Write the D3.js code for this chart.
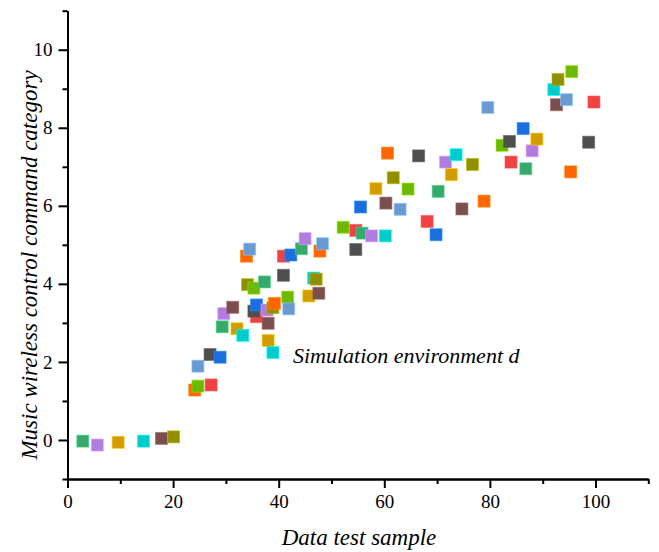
<!DOCTYPE html>
<html>
<head>
<meta charset="utf-8">
<script src="https://cdn.jsdelivr.net/npm/d3@7"></script>
<style>
  body { margin: 0; background: #fff; }
</style>
</head>
<body>
<div id="chart"></div>
<script>
// Sample index (x) and command category (y), in plotting order
const xs = [2.9, 5.65, 9.6, 14.4, 17.8, 20.1, 24.1, 24.7, 27.2, 24.7, 27.0, 28.9,
    29.3, 29.6, 32.1, 33.2, 31.3, 34.1, 33.9, 35.3, 35.8, 34.5, 35.3, 35.8,
    37.3, 37.8, 38.0, 38.9, 38.0, 38.9, 39.2, 41.7, 40.9, 41.9, 40.9, 42.3,
    44.3, 45.0, 45.7, 46.6, 47.6, 47.1, 47.8, 52.2, 54.6, 48.3, 54.6, 55.5,
    55.8, 57.6, 58.4, 60.2, 60.3, 61.7, 60.6, 64.5, 68.1, 63.0, 66.5, 69.8,
    70.2, 71.6, 72.7, 73.6, 74.7, 76.7, 78.9, 82.3, 84.0, 79.6, 83.7, 86.3,
    86.8, 88.0, 88.9, 92.1, 92.6, 92.9, 95.3, 95.5, 99.7, 94.5, 98.7];

const ys = [-0.03, -0.13, -0.06, -0.03, 0.04, 0.08, 1.28, 1.38, 1.41, 1.89, 2.19, 2.12,
    2.9, 3.24, 2.85, 2.68, 3.4, 3.98, 4.71, 3.89, 3.16, 4.89, 3.3, 3.46,
    4.05, 3.33, 2.55, 2.24, 2.99, 3.39, 3.5, 3.66, 4.71, 3.36, 4.22, 4.74,
    4.9, 5.16, 3.69, 4.15, 3.76, 4.12, 4.84, 5.45, 5.37, 5.03, 4.88, 5.97,
    5.3, 5.23, 6.44, 5.23, 6.07, 6.72, 7.35, 6.43, 5.6, 5.91, 7.28, 5.26,
    6.37, 7.12, 6.8, 7.31, 5.92, 7.06, 6.12, 7.55, 7.12, 8.52, 7.65, 7.98,
    6.95, 7.41, 7.71, 8.98, 8.59, 9.24, 6.87, 9.44, 8.66, 8.72, 7.63];

const palette = ["#38a96c", "#b07ce0", "#d29c00", "#00cccc", "#7c4f4f", "#918f00",
    "#ff6600", "#6db800", "#f04242", "#6a9bd0", "#4f4f4f", "#1a6ee0"];

const xMajor = [0, 20, 40, 60, 80, 100];
const xMinor = [10, 30, 50, 70, 90, 110];
const yMajor = [0, 2, 4, 6, 8, 10];
const yMinor = [-1, 1, 3, 5, 7, 9, 11];

const W = 659, H = 552;
const serif = "Liberation Serif, DejaVu Serif, Noto Serif, serif";

const svg = d3.select("#chart")
    .append("svg")
    .attr("width", W)
    .attr("height", H)
    .style("font-family", serif);

const x = d3.scaleLinear()
    .domain([0, 110])
    .range([67.5, 648.3]);

const y = d3.scaleLinear()
    .domain([-1, 11])
    .range([479, 10.7]);

// points
const pts = xs.map((v, i) => ({ x: v, y: ys[i], c: palette[i % palette.length] }));
const s = 12;

svg.append("g")
    .selectAll("rect")
    .data(pts)
    .enter()
    .append("rect")
    .attr("x", d => x(d.x) - s / 2)
    .attr("y", d => y(d.y) - s / 2)
    .attr("width", s)
    .attr("height", s)
    .attr("fill", d => d.c)
    .attr("stroke", d => d3.color(d.c).brighter(0.7))
    .attr("stroke-opacity", 0.6)
    .attr("stroke-width", 1);

// x axis
const xAxis = svg.append("g")
    .attr("transform", `translate(0,${y(-1)})`);
xAxis.append("g")
    .call(d3.axisBottom(x).tickValues(xMinor).tickSize(5).tickSizeOuter(0).tickFormat(""));
xAxis.append("g")
    .call(d3.axisBottom(x).tickValues(xMajor).tickSize(9).tickSizeOuter(0).tickPadding(7));

// y axis
const yAxis = svg.append("g")
    .attr("transform", `translate(${x(0)},0)`);
yAxis.append("g")
    .call(d3.axisLeft(y).tickValues(yMinor).tickSize(5).tickSizeOuter(0).tickFormat(""));
yAxis.append("g")
    .call(d3.axisLeft(y).tickValues(yMajor).tickSize(9).tickSizeOuter(0).tickPadding(6));

svg.selectAll("g").attr("font-family", null);

svg.selectAll(".domain, .tick line")
    .attr("stroke", "#000")
    .attr("stroke-width", 2);

svg.selectAll(".tick text")
    .attr("font-size", 19)
    .attr("fill", "#000")
    .style("font-family", serif);

// titles
const label = (sel) => sel
    .style("font-family", serif)
    .attr("font-style", "italic");

svg.append("text")
    .attr("x", 359)
    .attr("y", 545)
    .attr("text-anchor", "middle")
    .attr("font-size", 23)
    .call(label)
    .text("Data test sample");

svg.append("text")
    .attr("transform", "translate(37,265) rotate(-90)")
    .attr("text-anchor", "middle")
    .attr("font-size", 23)
    .call(label)
    .text("Music wireless control command category");

svg.append("text")
    .attr("x", 293)
    .attr("y", 363)
    .attr("font-size", 22)
    .call(label)
    .text("Simulation environment d");
</script>
</body>
</html>
